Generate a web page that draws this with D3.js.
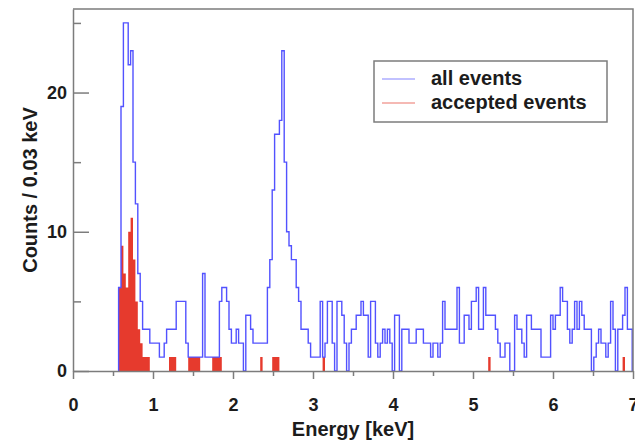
<!DOCTYPE html>
<html>
<head>
<meta charset="utf-8">
<script src="https://cdn.jsdelivr.net/npm/d3@7"></script>
<style>
  body { margin: 0; background: #fff; }
  svg { display: block; }
  text { font-family: "Liberation Sans", Arial, Helvetica, sans-serif; font-weight: bold; fill: #1c1c1c; }
</style>
</head>
<body>
<svg id="chart" width="635" height="441"></svg>
<script>
// Energy spectrum, 0.03 keV bins starting at 0 keV
const binWidth = 0.03;
const xTicks = [0, 1, 2, 3, 4, 5, 6, 7];
const xMinorTicks = [0.5, 1.5, 2.5, 3.5, 4.5, 5.5, 6.5];
const yTicks = [0, 10, 20];
const yMinorTicks = [5, 15, 25];
const seriesNames = ["all events", "accepted events"];

// counts per bin, all events
const allEvents = [
  0,0,0,0,0,0,0,0,0,0, 0,0,0,0,0,0,0,0,0,6,
  19,25,25,22,23,15,12,7,5,3, 3,3,2,2,2,2,1,1,2,3,
  3,3,3,5,5,5,5,2,1,1, 1,1,1,1,7,1,1,1,1,1,
  1,5,6,6,5,3,2,2,3,2, 2,0,4,4,3,2,2,2,2,2,
  2,6,8,13,17,17,18,23,15,10, 9,8,8,6,5,3,3,3,2,1,
  1,1,1,5,1,2,5,5,2,0, 5,5,4,2,0,2,3,3,4,4,
  5,4,4,1,5,5,2,1,2,3, 2,3,2,0,4,4,0,3,3,3,
  2,2,2,3,3,3,2,2,2,1, 2,2,1,2,5,3,3,3,3,3,
  6,2,2,4,4,3,5,5,6,3, 3,6,4,4,4,4,3,2,1,1,
  2,2,0,0,4,3,3,2,1,4, 4,3,3,3,3,1,1,1,1,4,
  3,4,4,6,5,5,3,2,3,5, 3,5,4,3,3,3,0,1,2,3,
  2,2,1,2,5,3,0,3,3,4, 6,3,3
];

// counts per bin, accepted events
const acceptedEvents = [
  0,0,0,0,0,0,0,0,0,0, 0,0,0,0,0,0,0,0,0,6,
  9,7,6,10,11,8,5,3,2,1, 1,1,0,0,0,0,0,0,0,0,
  1,1,1,0,0,0,0,0,1,1, 1,1,1,0,0,0,0,0,1,1,
  1,1,0,0,0,0,0,0,0,0, 0,0,0,0,0,0,0,0,1,0,
  0,0,0,1,1,1,0,0,0,0, 0,0,0,0,0,0,0,0,0,0,
  0,0,0,0,1,0,0,0,0,0, 0,0,0,0,0,0,0,0,0,0,
  0,0,0,0,0,0,0,0,0,0, 0,0,0,0,0,0,0,0,0,0,
  0,0,0,0,0,0,0,0,0,0, 0,0,0,0,0,0,0,0,0,0,
  0,0,0,0,0,0,0,0,0,0, 0,0,0,1,0,0,0,0,0,0,
  0,0,0,0,0,0,0,0,0,0, 0,0,0,0,0,0,0,0,0,0,
  0,0,0,0,0,0,0,0,0,0, 0,0,0,0,0,0,0,0,0,0,
  0,0,0,0,0,0,0,0,0,1, 0,0,0
];

const colors = { all: "#5252ff", accepted: "#e63a2d", axis: "#7c7c7c" };

const margin = { left: 73, right: 633, top: 9, bottom: 371 };
const svg = d3.select("#chart");

const x = d3.scaleLinear().domain([0, 7]).range([margin.left, margin.right]);
const y = d3.scaleLinear().domain([0, 26]).range([margin.bottom, margin.top]);

svg.append("defs").append("clipPath").attr("id", "plot-clip")
  .append("rect")
  .attr("x", margin.left).attr("y", margin.top)
  .attr("width", margin.right - margin.left)
  .attr("height", margin.bottom - margin.top);

// step outline of a histogram, from its first to last non-empty bin
function stepPoints(counts) {
  const first = counts.findIndex(c => c > 0);
  let last = counts.length - 1;
  while (last > 0 && counts[last] === 0) last--;
  const pts = [[first * binWidth, 0]];
  for (let i = first; i <= last; i++) {
    pts.push([i * binWidth, counts[i]]);
    pts.push([(i + 1) * binWidth, counts[i]]);
  }
  pts.push([(last + 1) * binWidth, 0]);
  return pts;
}

const plot = svg.append("g").attr("clip-path", "url(#plot-clip)");

// accepted events: filled histogram
const area = d3.area()
  .x(d => x(d[0]))
  .y0(y(0))
  .y1(d => y(d[1]));
plot.append("path")
  .attr("d", area(stepPoints(acceptedEvents)))
  .attr("fill", colors.accepted);

// all events: step line
const line = d3.line().x(d => x(d[0])).y(d => y(d[1]));
plot.append("path")
  .attr("d", line(stepPoints(allEvents)))
  .attr("fill", "none")
  .attr("stroke", colors.all)
  .attr("stroke-width", 1.4);

// frame
svg.append("path")
  .attr("d", `M${margin.left},${margin.top}H${margin.right}V${margin.bottom}`)
  .attr("fill", "none")
  .attr("stroke", colors.axis)
  .attr("stroke-width", 1.5);

// x axis
const xAxis = svg.append("g")
  .attr("transform", `translate(0,${margin.bottom})`)
  .call(d3.axisBottom(x).tickValues(xTicks).tickFormat(d3.format("d"))
    .tickSizeInner(8).tickSizeOuter(0).tickPadding(19));
const xMinor = svg.append("g")
  .attr("transform", `translate(0,${margin.bottom})`)
  .call(d3.axisBottom(x).tickValues(xMinorTicks).tickFormat("")
    .tickSizeInner(5).tickSizeOuter(0));
xMinor.select(".domain").remove();

// y axis, ticks pointing into the plot
const yAxis = svg.append("g")
  .attr("transform", `translate(${margin.left},0)`)
  .call(d3.axisLeft(y).tickValues(yTicks).tickFormat(d3.format("d"))
    .tickSizeInner(-16).tickSizeOuter(0).tickPadding(6));
const yMinor = svg.append("g")
  .attr("transform", `translate(${margin.left},0)`)
  .call(d3.axisLeft(y).tickValues(yMinorTicks).tickFormat("")
    .tickSizeInner(-8).tickSizeOuter(0));
yMinor.select(".domain").remove();

[xAxis, xMinor, yAxis, yMinor].forEach(g => {
  g.selectAll(".domain, line").attr("stroke", colors.axis).attr("stroke-width", 1.5);
  g.selectAll("text").attr("font-size", 18).attr("font-family", null).attr("fill", "#1c1c1c");
});

// axis titles
svg.append("text")
  .attr("x", (margin.left + margin.right) / 2)
  .attr("y", 436)
  .attr("text-anchor", "middle")
  .attr("font-size", 20)
  .text("Energy [keV]");

svg.append("text")
  .attr("transform", `translate(37,${(margin.top + margin.bottom) / 2}) rotate(-90)`)
  .attr("text-anchor", "middle")
  .attr("font-size", 20)
  .text("Counts / 0.03 keV");

// legend
const legend = svg.append("g");
legend.append("rect")
  .attr("x", 374).attr("y", 61).attr("width", 233).attr("height", 61)
  .attr("fill", "#fff").attr("stroke", colors.axis).attr("stroke-width", 1.5);
const legendRows = [
  { name: seriesNames[0], color: colors.all, y: 79 },
  { name: seriesNames[1], color: colors.accepted, y: 103 }
];
legendRows.forEach(r => {
  legend.append("line")
    .attr("x1", 382).attr("x2", 415).attr("y1", r.y).attr("y2", r.y)
    .attr("stroke", r.color).attr("stroke-width", 1.2).attr("opacity", 0.7);
  legend.append("text")
    .attr("x", 431).attr("y", r.y + 6)
    .attr("font-size", 20)
    .text(r.name);
});
</script>
</body>
</html>
